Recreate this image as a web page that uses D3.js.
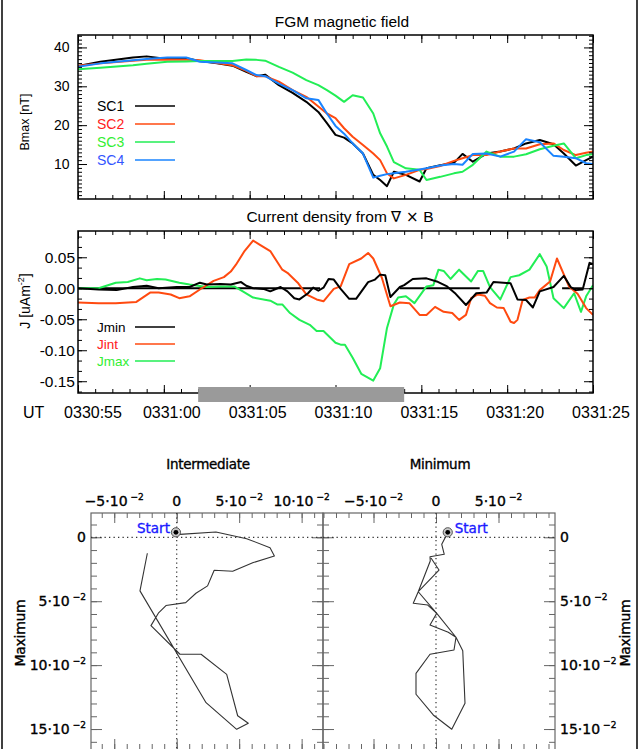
<!DOCTYPE html>
<html>
<head>
<meta charset="utf-8">
<script src="https://cdn.jsdelivr.net/npm/d3@7"></script>
<style>
body { margin: 0; background: #fff; }
svg { display: block; font-family: "Liberation Sans", Arial, sans-serif; }
</style>
</head>
<body>
<svg id="chart" width="642" height="749"></svg>
<script>
// ---- data ----
// time in seconds after 0330:55 UT
var bTimes = [0, 1.3, 3.2, 4.0, 5.2, 6.3, 7.1, 8.1, 9.0, 9.8, 10.4, 10.9, 11.7, 12.5, 13.3, 14.0, 14.5, 15.0, 15.5, 16.0, 16.6, 17.2, 17.6, 18.0, 18.4, 19.1, 19.9, 20.3, 21.1, 21.9, 22.4, 23.0, 23.8, 24.6, 25.4, 26.1, 26.9, 27.7, 28.3, 29.0, 29.6, 30.0];
var sc1 = [35.2, 36.3, 37.4, 37.7, 37.0, 37.2, 36.5, 35.9, 35.3, 33.7, 32.6, 33.0, 30.3, 28.3, 26.0, 23.4, 20.5, 17.5, 16.8, 15.3, 12.7, 7.2, 5.9, 4.3, 8.0, 7.2, 5.5, 8.9, 9.7, 10.3, 12.6, 10.6, 12.7, 13.2, 14.0, 15.3, 16.2, 15.1, 12.7, 9.6, 11.0, 11.9];
var sc2 = [35.3, 35.9, 36.6, 36.8, 36.9, 36.8, 36.7, 36.0, 35.4, 34.0, 32.6, 32.6, 31.2, 29.0, 27.3, 24.8, 23.0, 21.8, 19.2, 17.0, 14.9, 12.7, 11.0, 7.6, 6.3, 7.2, 8.5, 8.7, 9.5, 10.8, 11.5, 12.3, 12.3, 13.2, 14.0, 14.0, 15.1, 15.3, 13.6, 12.3, 12.9, 13.2];
var sc3 = [34.4, 34.8, 35.4, 35.8, 36.3, 36.4, 36.5, 36.5, 36.5, 36.9, 36.8, 36.6, 35.0, 33.5, 31.6, 30.3, 29.0, 27.6, 26.0, 27.7, 27.1, 23.0, 17.9, 14.5, 10.5, 8.9, 8.5, 5.9, 6.7, 7.6, 8.0, 9.8, 13.2, 11.9, 11.9, 12.5, 13.8, 14.7, 15.3, 11.5, 12.3, 12.5];
var sc4 = [35.0, 35.9, 36.7, 37.0, 37.4, 37.4, 36.3, 36.1, 35.9, 34.2, 32.9, 32.6, 30.7, 29.0, 26.9, 26.5, 23.0, 19.8, 17.8, 15.3, 12.7, 6.5, 7.0, 7.4, 7.6, 8.0, 8.6, 8.9, 9.6, 10.0, 9.8, 12.6, 12.7, 11.9, 13.2, 16.4, 15.6, 12.1, 11.9, 11.5, 10.2, 10.0];
var scNames = ["SC1", "SC2", "SC3", "SC4"];
var scLineColors = ["#000000", "#ff4a10", "#22ee55", "#1a84ff"];
var scTextColors = ["#000000", "#ff2020", "#33ee33", "#3355ff"];

// [t, J]
var jmin = [[0, 0.000], [1.2, -0.002], [2.25, -0.003], [3.2, 0.002], [4.0, 0.004], [4.7, 0.000], [5.75, 0.002], [6.5, 0.002], [7.1, 0.009], [7.5, 0.006], [8.3, 0.007], [8.9, 0.006], [9.5, 0.010], [9.8, 0.004], [10.2, 0.000], [10.8, -0.001], [11.2, -0.005], [11.8, 0.002], [12.2, -0.005], [12.6, -0.016], [12.9, -0.018], [13.4, -0.008], [13.7, 0.001], [14.0, -0.004], [14.3, 0.001], [14.6, 0.015], [14.9, 0.014], [15.3, -0.001], [15.8, -0.017], [16.2, -0.017], [16.9, 0.010], [17.3, 0.014], [17.6, 0.022], [17.9, 0.021], [18.2, -0.014], [18.75, 0.002], [19.0, 0.005], [19.5, 0.015], [20.3, 0.016], [20.9, 0.011], [21.5, 0.003], [22.0, -0.009], [22.6, -0.027], [23.2, -0.008], [23.8, -0.007], [24.2, 0.010], [25.2, 0.008], [25.6, -0.018], [26.1, -0.019], [26.5, -0.031], [26.9, -0.005], [27.7, 0.002], [28.3, 0.020], [28.7, 0.002], [29.0, -0.003], [29.4, -0.002], [29.8, 0.041], [30, 0.039]];
var jint = [[0, -0.023], [1.2, -0.024], [2.2, -0.024], [3.4, -0.022], [4.2, -0.007], [4.7, -0.007], [5.4, -0.010], [5.9, -0.016], [6.5, -0.013], [7.1, -0.002], [7.9, 0.012], [8.5, 0.018], [8.9, 0.027], [9.2, 0.038], [9.7, 0.060], [10.2, 0.077], [10.6, 0.070], [11.2, 0.060], [11.9, 0.030], [12.2, 0.025], [12.8, 0.009], [13.3, -0.010], [13.9, -0.018], [14.3, -0.021], [14.9, -0.001], [15.3, 0.003], [15.8, 0.039], [16.5, 0.048], [16.9, 0.057], [17.2, 0.048], [17.7, 0.017], [18.2, -0.029], [18.75, -0.023], [19.3, -0.024], [19.9, -0.043], [20.3, -0.043], [20.8, -0.030], [21.3, -0.038], [21.8, -0.040], [22.2, -0.051], [22.6, -0.043], [22.9, -0.016], [23.3, -0.010], [23.7, -0.012], [24.0, -0.024], [24.4, -0.031], [24.8, -0.032], [25.2, -0.054], [25.4, -0.056], [25.6, -0.051], [25.9, -0.019], [26.3, -0.015], [26.6, -0.015], [26.9, -0.003], [27.5, 0.011], [27.9, 0.048], [28.6, 0.003], [29.1, -0.009], [29.6, -0.032], [30, -0.043]];
var jmax = [[0, 0.000], [1.2, 0.000], [2.2, 0.009], [2.9, 0.010], [3.6, 0.016], [4.0, 0.013], [4.6, 0.015], [5.1, 0.014], [5.9, 0.009], [6.5, 0.006], [7.5, 0.002], [8.3, 0.003], [9.1, 0.003], [9.6, -0.005], [10.2, -0.015], [11.2, -0.020], [11.6, -0.026], [11.9, -0.026], [12.35, -0.040], [12.9, -0.051], [13.5, -0.059], [13.9, -0.069], [14.3, -0.069], [15.0, -0.088], [15.3, -0.091], [15.55, -0.091], [16.0, -0.112], [16.5, -0.138], [17.2, -0.149], [17.6, -0.129], [18.0, -0.064], [18.4, -0.026], [18.65, -0.015], [19.1, -0.013], [19.6, -0.024], [20.3, 0.003], [20.7, 0.005], [21.0, 0.030], [21.3, 0.028], [21.7, 0.015], [22.2, 0.030], [22.9, 0.011], [23.3, 0.028], [23.6, 0.028], [24.0, 0.002], [24.6, -0.018], [25.2, 0.018], [25.7, 0.021], [26.3, 0.030], [26.9, 0.055], [27.3, 0.035], [27.7, -0.016], [28.3, -0.032], [28.9, -0.008], [29.3, -0.038], [29.6, -0.013], [30, 0.005]];
var zeroSpans = [[0, 14.1], [18.75, 23.4], [28.2, 29.4]];
var jNames = ["Jmin", "Jint", "Jmax"];
var jLineColors = ["#000000", "#ff4a10", "#22ee55"];
var jTextColors = ["#000000", "#ff2020", "#33ee33"];

var interval = [7, 19];   // 0331:02 - 0331:14
var timeTickValues = [0, 5, 10, 15, 20, 25, 30];
var timeLabels = ["0330:55", "0331:00", "0331:05", "0331:10", "0331:15", "0331:20", "0331:25"];

// hodograms: [intermediate or minimum, maximum]
var hodoInt = [[-0.0006, -0.0039], [0.0026, -0.0023], [0.0314, -0.0041], [0.0560, 0.0011], [0.0747, 0.0081], [0.0782, 0.0146], [0.0613, 0.0198], [0.0448, 0.0266], [0.0300, 0.0258], [0.0247, 0.0380], [0.0154, 0.0438], [0.0072, 0.0511], [-0.0086, 0.0534], [-0.0147, 0.0594], [-0.0206, 0.0691], [0.0026, 0.0915], [0.0195, 0.0915], [0.0400, 0.1072], [0.0488, 0.1396], [0.0573, 0.1455], [0.0480, 0.1502], [0.0235, 0.1294], [-0.0294, 0.0419], [-0.0235, 0.0125]];
var hodoMin = [[0.0094, -0.0039], [0.0075, 0.0000], [0.0046, 0.0055], [0.0066, 0.0133], [-0.0048, 0.0152], [-0.0046, 0.0185], [-0.0142, 0.0426], [-0.0182, 0.0516], [-0.0066, 0.0530], [0.0006, 0.0595], [-0.0048, 0.0686], [0.0098, 0.0743], [0.0160, 0.0782], [0.0144, 0.0882], [-0.0048, 0.0915], [-0.0160, 0.1064], [-0.0160, 0.1228], [-0.0022, 0.1390], [0.0126, 0.1502], [0.0232, 0.1299], [0.0214, 0.0887], [0.0160, 0.0782], [0.0006, 0.0595], [-0.0142, 0.0426], [0.0024, 0.0256], [-0.0040, 0.0162]];
var hodoXTicksInt = [-0.05, 0, 0.05, 0.1];
var hodoXTicksMin = [-0.05, 0, 0.05];
var hodoYTicks = [0, 0.05, 0.1, 0.15];

var svg = d3.select("#chart");

// outer border lines
[2, 637].forEach(function (xx) {
    svg.append("line").attr("x1", xx).attr("x2", xx).attr("y1", 0).attr("y2", 749)
        .attr("stroke", "#000").attr("stroke-width", 1.5);
});

function tickAxis(axisFn, scale, pos, values, len, color, horizontal) {
    var ax = axisFn(scale).tickValues(values).tickSize(-len).tickFormat("");
    var g = svg.append("g")
        .attr("transform", horizontal ? `translate(0,${pos})` : `translate(${pos},0)`)
        .call(ax);
    g.select(".domain").remove();
    g.selectAll("line").attr("stroke", color).attr("stroke-width", 1);
    return g;
}

// ---- time panels ----
var x = d3.scaleLinear().domain([0, 30]).range([78, 593]);
var yB = d3.scaleLinear().domain([1, 43.2]).range([199, 35]);
var yJ = d3.scaleLinear().domain([-0.169, 0.0924]).range([393, 231]);
var minorT = d3.range(0, 31);

function timeFrame(yScale, yMinor, yMajor) {
    var r = yScale.range();
    var top = r[1], bottom = r[0];
    tickAxis(d3.axisBottom, x, bottom, minorT, 4, "#000", true);
    tickAxis(d3.axisBottom, x, bottom, timeTickValues, 8, "#000", true);
    tickAxis(d3.axisTop, x, top, minorT, 4, "#000", true);
    tickAxis(d3.axisTop, x, top, timeTickValues, 8, "#000", true);
    tickAxis(d3.axisLeft, yScale, 78, yMinor, 4, "#000", false);
    tickAxis(d3.axisLeft, yScale, 78, yMajor, 9, "#000", false);
    tickAxis(d3.axisRight, yScale, 593, yMinor, 4, "#000", false);
    tickAxis(d3.axisRight, yScale, 593, yMajor, 9, "#000", false);
    svg.append("rect").attr("x", 78).attr("y", top).attr("width", 515).attr("height", bottom - top)
        .attr("fill", "none").attr("stroke", "#000").attr("stroke-width", 1.5);
}

var defs = svg.append("defs");
defs.append("clipPath").attr("id", "clipB").append("rect")
    .attr("x", 78).attr("y", 35).attr("width", 515).attr("height", 164);
defs.append("clipPath").attr("id", "clipJ").append("rect")
    .attr("x", 78).attr("y", 231).attr("width", 515).attr("height", 162);

// top panel: FGM magnetic field
svg.append("text").attr("x", 342).attr("y", 27).attr("text-anchor", "middle")
    .attr("font-size", 15.5).text("FGM magnetic field");

var lineB = d3.line().x(function (d, i) { return x(bTimes[i]); }).y(function (d) { return yB(d); });
var gB = svg.append("g").attr("clip-path", "url(#clipB)");
[sc1, sc2, sc3, sc4].forEach(function (s, k) {
    gB.append("path").attr("d", lineB(s)).attr("fill", "none")
        .attr("stroke", scLineColors[k]).attr("stroke-width", 2).attr("stroke-linejoin", "round");
});
timeFrame(yB, d3.range(2, 44), [10, 20, 30, 40]);

var yBLab = svg.append("g").attr("transform", "translate(69.5,0)")
    .call(d3.axisLeft(yB).tickValues([10, 20, 30, 40]).tickSize(0).tickPadding(0));
yBLab.select(".domain").remove();
yBLab.selectAll("text").attr("font-size", 14).attr("font-family", null).attr("fill", "#000");

svg.append("text").attr("transform", "translate(29,122) rotate(-90)").attr("text-anchor", "middle")
    .attr("font-size", 12.5).text("Bmax [nT]");

scNames.forEach(function (name, k) {
    var ly = 106 + k * 18;
    svg.append("text").attr("x", 97).attr("y", ly + 5).attr("font-size", 14)
        .attr("fill", scTextColors[k]).text(name);
    svg.append("line").attr("x1", 135).attr("x2", 175).attr("y1", ly).attr("y2", ly)
        .attr("stroke", scLineColors[k]).attr("stroke-width", 1.5);
});

// middle panel: current density
var title2 = svg.append("text").attr("x", 340).attr("y", 222).attr("text-anchor", "middle").attr("font-size", 15.5);
title2.append("tspan").text("Current density from  ");
title2.append("tspan").attr("font-family", "DejaVu Sans, sans-serif").attr("font-size", 15).text("\u2207 \u00d7 ");
title2.append("tspan").text("B");

var lineJ = d3.line().x(function (d) { return x(d[0]); }).y(function (d) { return yJ(d[1]); });
var gJ = svg.append("g").attr("clip-path", "url(#clipJ)");
zeroSpans.forEach(function (s) {
    gJ.append("path").attr("d", lineJ([[s[0], 0], [s[1], 0]]))
        .attr("stroke", "#000").attr("stroke-width", 2);
});
[jmax, jint, jmin].forEach(function (s, k) {
    var idx = 2 - k;
    gJ.append("path").attr("d", lineJ(s)).attr("fill", "none")
        .attr("stroke", jLineColors[idx]).attr("stroke-width", 2).attr("stroke-linejoin", "round");
});

var jMinor = d3.range(-10, 6).map(function (i) { return i * 0.05 / 3; });
var jMajor = [-0.15, -0.1, -0.05, 0, 0.05];
timeFrame(yJ, jMinor, jMajor);

// analysis interval bar
svg.append("rect").attr("x", x(interval[0])).attr("y", 387)
    .attr("width", x(interval[1]) - x(interval[0])).attr("height", 15).attr("fill", "#9a9a9a");

var yJLab = svg.append("g").attr("transform", "translate(75,0)")
    .call(d3.axisLeft(yJ).tickValues(jMajor).tickSize(0).tickPadding(0)
        .tickFormat(function (d) { return d3.format(".2f")(d).replace("\u2212", "-"); }));
yJLab.select(".domain").remove();
yJLab.selectAll("text").attr("font-size", 15.5).attr("font-family", null).attr("fill", "#000");

var jt = svg.append("text").attr("transform", "translate(30,301) rotate(-90)").attr("text-anchor", "middle")
    .attr("font-size", 14);
jt.append("tspan").text("J [uAm");
jt.append("tspan").attr("font-size", 9).attr("dy", -6).text("-2");
jt.append("tspan").attr("dy", 6).text("]");

jNames.forEach(function (name, k) {
    var ly = 327 + k * 17;
    svg.append("text").attr("x", 97).attr("y", ly + 4.5).attr("font-size", 13.5)
        .attr("fill", jTextColors[k]).text(name);
    svg.append("line").attr("x1", 135).attr("x2", 175).attr("y1", ly).attr("y2", ly)
        .attr("stroke", jLineColors[k]).attr("stroke-width", 1.5);
});

// time labels
svg.append("text").attr("x", 23).attr("y", 418).attr("font-size", 16).text("UT");
svg.selectAll(".tlab").data(timeTickValues).enter().append("text")
    .attr("class", "tlab")
    .attr("x", function (d, i) { return x(d) + (i === 0 ? 15 : 8); })
    .attr("y", 418).attr("text-anchor", "middle").attr("font-size", 16)
    .text(function (d, i) { return timeLabels[i]; });

// ---- hodograms ----
var hodoFont = "DejaVu Sans, sans-serif";
var yH = d3.scaleLinear().domain([-0.019, 0.1664]).range([513, 750]);
var xInt = d3.scaleLinear().domain([-0.0686, 0.1171]).range([91, 323]);
var xMin = d3.scaleLinear().domain([-0.0904, 0.0952]).range([323, 555]);

function sciText(sel, v) {
    var m = Math.round(v * 100);
    if (m === 0) { sel.append("tspan").text("0"); return; }
    sel.append("tspan").text((m < 0 ? "\u2212" : "") + Math.abs(m) + "\u00b710");
    sel.append("tspan").attr("dx", 3).attr("dy", -6).attr("font-size", 9).text("\u2212" + "2");
}

// heavier strokes on the hodogram texts, as in the original rendering
function heavy(sel) {
    return sel.attr("stroke", "currentColor").attr("stroke-width", 0.35);
}

function hodogram(xs, data, title, xLabels, labelSide, startSide) {
    var xr = xs.range(), yr = yH.range();
    var dom = xs.domain();
    var xMinorT = d3.range(-9, 12).map(function (i) { return i / 100; })
        .filter(function (v) { return v >= dom[0] && v <= dom[1]; });
    var xMajorT = [-0.05, 0, 0.05, 0.1].filter(function (v) { return v >= dom[0] && v <= dom[1]; });
    var yMinorT = d3.range(-1, 17).map(function (i) { return i / 100; });
    var col = "#666";

    svg.append("rect").attr("x", xr[0]).attr("y", yr[0]).attr("width", xr[1] - xr[0]).attr("height", yr[1] - yr[0])
        .attr("fill", "none").attr("stroke", col).attr("stroke-width", 1.2);

    tickAxis(d3.axisTop, xs, yr[0], xMinorT, 5, col, true);
    tickAxis(d3.axisTop, xs, yr[0], xMajorT, 10, col, true);
    tickAxis(d3.axisBottom, xs, yr[1], xMinorT, 6, col, true);
    tickAxis(d3.axisBottom, xs, yr[1], xMajorT, 11, col, true);
    tickAxis(d3.axisLeft, yH, xr[0], yMinorT, 6, col, false);
    tickAxis(d3.axisLeft, yH, xr[0], hodoYTicks, 11, col, false);
    tickAxis(d3.axisRight, yH, xr[1], yMinorT, 6, col, false);
    tickAxis(d3.axisRight, yH, xr[1], hodoYTicks, 11, col, false);

    // zero lines
    svg.append("line").attr("x1", xr[0]).attr("x2", xr[1]).attr("y1", yH(0)).attr("y2", yH(0))
        .attr("stroke", "#333").attr("stroke-width", 1.2).attr("stroke-dasharray", "1.3,3.2");
    svg.append("line").attr("x1", xs(0)).attr("x2", xs(0)).attr("y1", yr[0]).attr("y2", yr[1])
        .attr("stroke", "#333").attr("stroke-width", 1.2).attr("stroke-dasharray", "1.3,3.2");

    var line = d3.line().x(function (d) { return xs(d[0]); }).y(function (d) { return yH(d[1]); });
    svg.append("path").attr("d", line(data)).attr("fill", "none")
        .attr("stroke", "#333").attr("stroke-width", 1.1).attr("stroke-linejoin", "round");

    var sx = xs(data[0][0]), sy = yH(data[0][1]);
    svg.append("circle").attr("cx", sx).attr("cy", sy).attr("r", 4.6)
        .attr("fill", "#c8c8c8").attr("stroke", "#555").attr("stroke-width", 1);
    svg.append("circle").attr("cx", sx).attr("cy", sy).attr("r", 2.4).attr("fill", "#000");
    heavy(svg.append("text").attr("x", startSide === "left" ? sx - 6 : sx + 7).attr("y", sy + 1)
        .attr("text-anchor", startSide === "left" ? "end" : "start")
        .attr("font-family", hodoFont).attr("font-size", 13.5).attr("fill", "#1a1aff")
        .style("color", "#1a1aff").text("Start"));

    heavy(svg.append("text").attr("x", (xr[0] + xr[1]) / 2 + 1).attr("y", 469).attr("text-anchor", "middle")
        .attr("font-family", hodoFont).attr("font-size", 13.5).attr("letter-spacing", -0.3).text(title));

    xLabels.forEach(function (v) {
        var t = heavy(svg.append("text").attr("x", xs(v)).attr("y", 506).attr("text-anchor", "middle")
            .attr("font-family", hodoFont).attr("font-size", 14));
        sciText(t, v);
    });

    hodoYTicks.forEach(function (v) {
        var t = heavy(svg.append("text")
            .attr("x", labelSide === "left" ? xr[0] - 5 : xr[1] + 5)
            .attr("y", yH(v) + 5)
            .attr("text-anchor", labelSide === "left" ? "end" : "start")
            .attr("font-family", hodoFont).attr("font-size", 14));
        sciText(t, v);
    });

    var tx = labelSide === "left" ? 20 : 625;
    heavy(svg.append("text").attr("transform", `translate(${tx + 5},633) rotate(-90)`).attr("text-anchor", "middle")
        .attr("font-family", hodoFont).attr("font-size", 14).attr("letter-spacing", -0.3).text("Maximum"));
}

hodogram(xInt, hodoInt, "Intermediate", hodoXTicksInt, "left", "left");
hodogram(xMin, hodoMin, "Minimum", hodoXTicksMin, "right", "right");
</script>
</body>
</html>
